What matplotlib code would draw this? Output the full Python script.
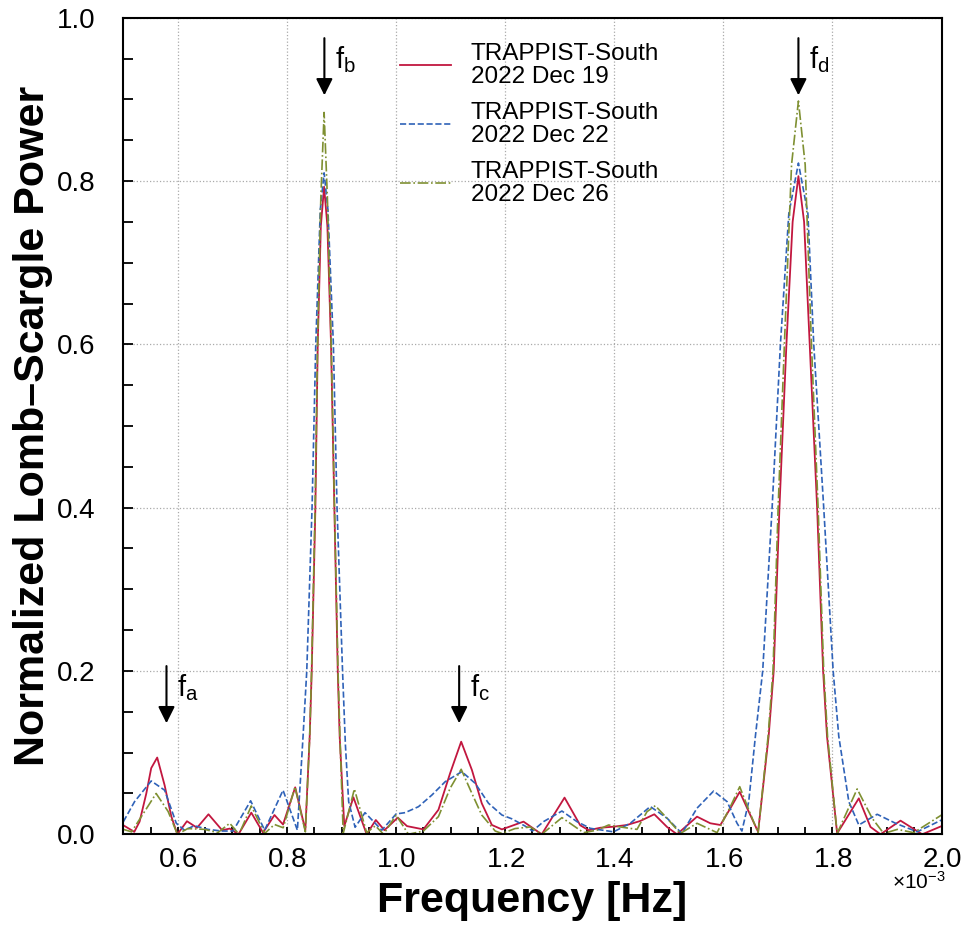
import numpy as np
import matplotlib
matplotlib.use("Agg")
import matplotlib.pyplot as plt
from matplotlib.ticker import AutoMinorLocator, ScalarFormatter, MultipleLocator

plt.rcParams['font.family'] = ['Liberation Sans', 'DejaVu Sans']
plt.rcParams['mathtext.fontset'] = 'custom'
plt.rcParams['mathtext.rm'] = 'Liberation Sans'

# frequencies in units of 1e-3 Hz, power
f_dec19 = [0.500, 0.520, 0.5297, 0.542, 0.551, 0.562, 0.5756, 0.582, 0.588, 0.599,
           0.6165, 0.635, 0.656, 0.681, 0.695, 0.711, 0.7345, 0.756, 0.777, 0.7927,
           0.815, 0.8336, 0.8416, 0.8453, 0.852, 0.8563, 0.862, 0.868, 0.874, 0.8807,
           0.8868, 0.893, 0.8965, 0.905, 0.9217, 0.946, 0.9628, 0.9786, 1.003, 1.020,
           1.050, 1.0776, 1.099, 1.1193, 1.139, 1.157, 1.1756, 1.194, 1.2336, 1.267,
           1.3088, 1.3376, 1.353, 1.3743, 1.3987, 1.4233, 1.4477, 1.4734, 1.4967, 1.515,
           1.5517, 1.576, 1.5945, 1.6128, 1.630, 1.6465, 1.6637, 1.683, 1.6923, 1.7028,
           1.7156, 1.727, 1.7376, 1.748, 1.7583, 1.7719, 1.7829, 1.790, 1.8086, 1.8483,
           1.8697, 1.888, 1.9248, 1.9646, 2.000]
p_dec19 = [0.011, 0.003, 0.0155, 0.050, 0.081, 0.094, 0.060, 0.040, 0.0216, 0.000,
           0.016, 0.008, 0.0245, 0.005, 0.007, 0.000, 0.0265, 0.002, 0.0236, 0.012,
           0.0575, 0.005, 0.12, 0.20, 0.40, 0.60, 0.745, 0.793, 0.745, 0.60,
           0.40, 0.20, 0.12, 0.010, 0.0453, 0.000, 0.0175, 0.005, 0.0204, 0.010,
           0.006, 0.030, 0.0747, 0.1134, 0.0787, 0.038, 0.0114, 0.006, 0.0155, 0.000,
           0.0449, 0.011, 0.005, 0.008, 0.0093, 0.0114, 0.0163, 0.0245, 0.009, 0.000,
           0.0216, 0.0135, 0.0114, 0.0318, 0.052, 0.0277, 0.003, 0.12, 0.20, 0.40,
           0.60, 0.75, 0.806, 0.75, 0.60, 0.40, 0.20, 0.12, 0.001, 0.044,
           0.009, 0.000, 0.0167, 0.000, 0.010]

f_dec22 = [0.500, 0.5205, 0.551, 0.5756, 0.597, 0.612, 0.630, 0.655, 0.680, 0.701,
           0.7333, 0.759, 0.7927, 0.819, 0.8294, 0.8362, 0.8459, 0.8527, 0.861, 0.868,
           0.875, 0.885, 0.8917, 0.9018, 0.907, 0.913, 0.9248, 0.943, 0.9738, 1.000,
           1.0165, 1.041, 1.0655, 1.090, 1.1205, 1.145, 1.1694, 1.194, 1.212, 1.2367,
           1.250, 1.2703, 1.304, 1.3316, 1.356, 1.3987, 1.4294, 1.466, 1.497, 1.524,
           1.5517, 1.5822, 1.6068, 1.6251, 1.634, 1.6465, 1.6587, 1.6721, 1.6894, 1.7046,
           1.720, 1.7376, 1.755, 1.7657, 1.784, 1.8013, 1.8116, 1.830, 1.8483, 1.882,
           1.9156, 1.9554, 2.000]
p_dec22 = [0.0155, 0.040, 0.0653, 0.054, 0.0135, 0.005, 0.0105, 0.006, 0.004, 0.004,
           0.041, 0.005, 0.054, 0.005, 0.12, 0.20, 0.40, 0.60, 0.765, 0.81,
           0.765, 0.60, 0.40, 0.20, 0.11, 0.04, 0.0086, 0.0265, 0.005, 0.0249,
           0.0265, 0.0338, 0.048, 0.0644, 0.0767, 0.0624, 0.038, 0.0236, 0.019, 0.010,
           0.004, 0.0155, 0.0285, 0.0155, 0.0073, 0.003, 0.0135, 0.034, 0.0196, 0.001,
           0.032, 0.053, 0.040, 0.0135, 0.004, 0.040, 0.12, 0.20, 0.40, 0.60,
           0.76, 0.822, 0.76, 0.60, 0.40, 0.20, 0.12, 0.04, 0.0114, 0.0245,
           0.0135, 0.003, 0.0175]

f_dec26 = [0.500, 0.515, 0.539, 0.560, 0.582, 0.599, 0.618, 0.649, 0.673, 0.695,
           0.712, 0.7345, 0.759, 0.777, 0.793, 0.8146, 0.8336, 0.8416, 0.845, 0.8515,
           0.856, 0.862, 0.868, 0.874, 0.881, 0.887, 0.8935, 0.897, 0.903, 0.9235,
           0.946, 0.962, 0.977, 1.000, 1.0226, 1.050, 1.0776, 1.099, 1.1193, 1.139,
           1.157, 1.1817, 1.194, 1.218, 1.246, 1.267, 1.304, 1.3437, 1.368, 1.3896,
           1.411, 1.4416, 1.460, 1.4752, 1.4967, 1.5211, 1.5517, 1.5884, 1.6128, 1.630,
           1.6465, 1.6637, 1.682, 1.691, 1.7004, 1.7119, 1.725, 1.7376, 1.750, 1.7615,
           1.7737, 1.784, 1.791, 1.8086, 1.8453, 1.8728, 1.894, 1.919, 1.949, 2.000]
p_dec26 = [0.006, 0.003, 0.028, 0.050, 0.028, 0.000, 0.007, 0.006, 0.002, 0.0135,
           0.000, 0.0347, 0.001, 0.012, 0.008, 0.058, 0.003, 0.12, 0.20, 0.40,
           0.60, 0.78, 0.884, 0.78, 0.60, 0.40, 0.20, 0.12, 0.001, 0.0555,
           0.002, 0.0104, 0.000, 0.0236, 0.000, 0.004, 0.0216, 0.0563, 0.0796, 0.050,
           0.0236, 0.004, 0.001, 0.007, 0.009, 0.000, 0.0204, 0.002, 0.005, 0.0114,
           0.009, 0.006, 0.0277, 0.035, 0.0196, 0.001, 0.0135, 0.002, 0.0338, 0.0583,
           0.030, 0.002, 0.12, 0.20, 0.40, 0.60, 0.82, 0.898, 0.82, 0.60,
           0.40, 0.20, 0.12, 0.001, 0.0555, 0.0196, 0.001, 0.006, 0.002, 0.0236]

# marked frequencies (1e-3 Hz)
mark_names = ['a', 'b', 'c', 'd']
mark_freq = [0.579, 0.8685, 1.1156, 1.7376]
mark_top = [0.206, 0.975, 0.206, 0.975]
mark_tip = [0.136, 0.905, 0.136, 0.905]

fig = plt.figure(figsize=(9.64, 9.33), dpi=100)
ax = fig.add_axes([0.128, 0.1058, 0.8487, 0.8752])

ax.plot(np.array(f_dec19) * 1e-3, p_dec19, '-', color='#c2173f', lw=1.3,
        label='TRAPPIST-South\n2022 Dec 19')
ax.plot(np.array(f_dec22) * 1e-3, p_dec22, '--', color='#2f62b8', lw=1.2,
        label='TRAPPIST-South\n2022 Dec 22')
ax.plot(np.array(f_dec26) * 1e-3, p_dec26, '-.', color='#7f9032', lw=1.2,
        label='TRAPPIST-South\n2022 Dec 26')

for name, fx, top, tip in zip(mark_names, mark_freq, mark_top, mark_tip):
    ax.annotate('', xy=(fx * 1e-3, tip), xytext=(fx * 1e-3, top),
                arrowprops=dict(arrowstyle='-|>', color='black', lw=1.5,
                                mutation_scale=25, shrinkA=0, shrinkB=0))
    ax.text((fx + 0.019) * 1e-3, top - 0.037, r'f$_\mathregular{%s}$' % name,
            fontsize=21, ha='left', va='baseline')

ax.set_xlim(0.5e-3, 2.0e-3)
ax.set_ylim(0, 1.0)
fmt = ScalarFormatter(useMathText=True)
fmt.set_powerlimits((-3, -3))
ax.xaxis.set_major_formatter(fmt)
ax.xaxis.get_offset_text().set_visible(False)
ax.text(0.972, -0.058, r'$\times\mathregular{10^{-3}}$', transform=ax.transAxes,
        ha='center', va='center', fontsize=15)
ax.xaxis.set_major_locator(MultipleLocator(0.2e-3))
ax.yaxis.set_major_locator(MultipleLocator(0.2))
ax.xaxis.set_minor_locator(AutoMinorLocator(4))
ax.yaxis.set_minor_locator(AutoMinorLocator(4))
ax.tick_params(which='both', direction='in', labelsize=20)
ax.tick_params(axis='x', which='both', length=5, width=1.3, pad=9)
ax.tick_params(axis='y', which='both', length=7, width=1.3, pad=20)
for s in ax.spines.values():
    s.set_linewidth(1.5)

ax.grid(True, which='major', linestyle=':', color='#aaaaaa', lw=0.9)

ax.set_xlabel('Frequency [Hz]', fontsize=31, fontweight='bold', labelpad=6)
ax.set_ylabel('Normalized Lomb–Scargle Power', fontsize=31, fontweight='bold',
              labelpad=3)

leg = ax.legend(loc='upper left', bbox_to_anchor=(0.3235, 0.984), frameon=False,
                fontsize=17.5, handlelength=2.1, handletextpad=0.8, borderpad=0,
                labelspacing=0.57)
for t in leg.get_texts():
    t.set_linespacing(1.06)

fig.savefig('out.png', dpi=100)
